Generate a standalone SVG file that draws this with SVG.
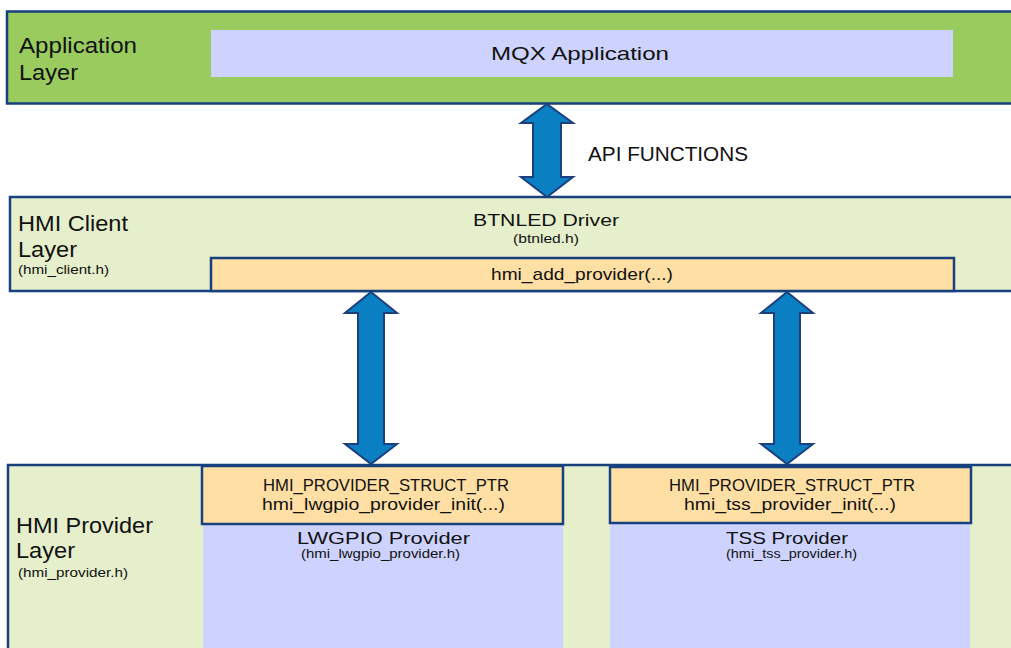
<svg xmlns="http://www.w3.org/2000/svg" width="1011" height="648" viewBox="0 0 1011 648">
<style>
text{font-family:"Liberation Sans",Arial,sans-serif;fill:#111}
.layer{stroke:#17407f;stroke-width:2.5}
.orange{fill:#ffdfa3;stroke:#17407f;stroke-width:2.5}
.blue{fill:#cdd3fe}
.arrow{fill:#0a7fc2;stroke:#1b3f7f;stroke-width:2;stroke-linejoin:miter}
.big{font-size:21.5px}
.mid{font-size:17px}
.sm{font-size:13px}
.xs{font-size:12.5px}
</style>
<rect width="1011" height="648" fill="#fff"/>
<g id="app-layer">
<rect class="layer" x="7" y="11.5" width="1010" height="92" fill="#99cb5f"/>
<rect class="blue" x="211" y="30" width="742" height="47"/>
<text x="19" y="53" font-size="22.5" textLength="118" lengthAdjust="spacingAndGlyphs">Application</text>
<text x="19" y="80" font-size="22.5" textLength="59" lengthAdjust="spacingAndGlyphs">Layer</text>
<text x="491" y="60" font-size="19" textLength="178" lengthAdjust="spacingAndGlyphs">MQX Application</text>
</g>
<g id="client-layer">
<rect class="layer" x="10" y="197" width="1010" height="94" fill="#e6efcb"/>
<rect class="orange" x="211" y="258" width="743" height="33"/>
<text class="big" x="18" y="231" textLength="110" lengthAdjust="spacingAndGlyphs">HMI Client</text>
<text class="big" x="18" y="257" textLength="59" lengthAdjust="spacingAndGlyphs">Layer</text>
<text class="sm" x="18" y="274" textLength="91" lengthAdjust="spacingAndGlyphs">(hmi_client.h)</text>
<text class="mid" x="473" y="226" textLength="146" lengthAdjust="spacingAndGlyphs">BTNLED Driver</text>
<text class="xs" x="513" y="243" textLength="66" lengthAdjust="spacingAndGlyphs">(btnled.h)</text>
<text class="mid" x="491" y="280" textLength="182" lengthAdjust="spacingAndGlyphs">hmi_add_provider(...)</text>
</g>
<g id="provider-layer">
<rect class="layer" x="8" y="465" width="1012" height="200" fill="#e6efcb"/>
<rect class="blue" x="203" y="466" width="360" height="190"/>
<rect class="blue" x="610" y="466" width="360" height="190"/>
<text class="big" x="16" y="533" textLength="137" lengthAdjust="spacingAndGlyphs">HMI Provider</text>
<text class="big" x="16" y="558" textLength="59" lengthAdjust="spacingAndGlyphs">Layer</text>
<text class="sm" x="18" y="577" textLength="110" lengthAdjust="spacingAndGlyphs">(hmi_provider.h)</text>
</g>
<g id="lwgpio-provider">
<rect class="orange" x="202" y="466" width="361" height="58"/>
<text x="263" y="491" font-size="16.5" textLength="246" lengthAdjust="spacingAndGlyphs">HMI_PROVIDER_STRUCT_PTR</text>
<text x="262" y="510" font-size="16.5" textLength="243" lengthAdjust="spacingAndGlyphs">hmi_lwgpio_provider_init(...)</text>
<text class="mid" x="297" y="544" textLength="173" lengthAdjust="spacingAndGlyphs">LWGPIO Provider</text>
<text class="xs" x="301" y="558" textLength="159" lengthAdjust="spacingAndGlyphs">(hmi_lwgpio_provider.h)</text>
</g>
<g id="tss-provider">
<rect class="orange" x="610" y="467" width="361" height="56"/>
<text x="669" y="491" font-size="16.5" textLength="246" lengthAdjust="spacingAndGlyphs">HMI_PROVIDER_STRUCT_PTR</text>
<text x="684" y="510" font-size="16.5" textLength="212" lengthAdjust="spacingAndGlyphs">hmi_tss_provider_init(...)</text>
<text class="mid" x="726" y="544" textLength="122" lengthAdjust="spacingAndGlyphs">TSS Provider</text>
<text class="xs" x="726" y="558" textLength="131" lengthAdjust="spacingAndGlyphs">(hmi_tss_provider.h)</text>
</g>
<g id="connectors">
<polygon class="arrow" points="547,104 573,123 561,123 561,177 573,177 547,197 521,177 533,177 533,123 521,123"/>
<polygon class="arrow" points="371,292 397,313 384,313 384,444 397,444 371,464 345,444 358,444 358,313 345,313"/>
<polygon class="arrow" points="787,292 813,313 800,313 800,444 813,444 787,464 761,444 774,444 774,313 761,313"/>
<text x="588" y="161" font-size="19.5" textLength="160" lengthAdjust="spacingAndGlyphs">API FUNCTIONS</text>
</g>
</svg>
